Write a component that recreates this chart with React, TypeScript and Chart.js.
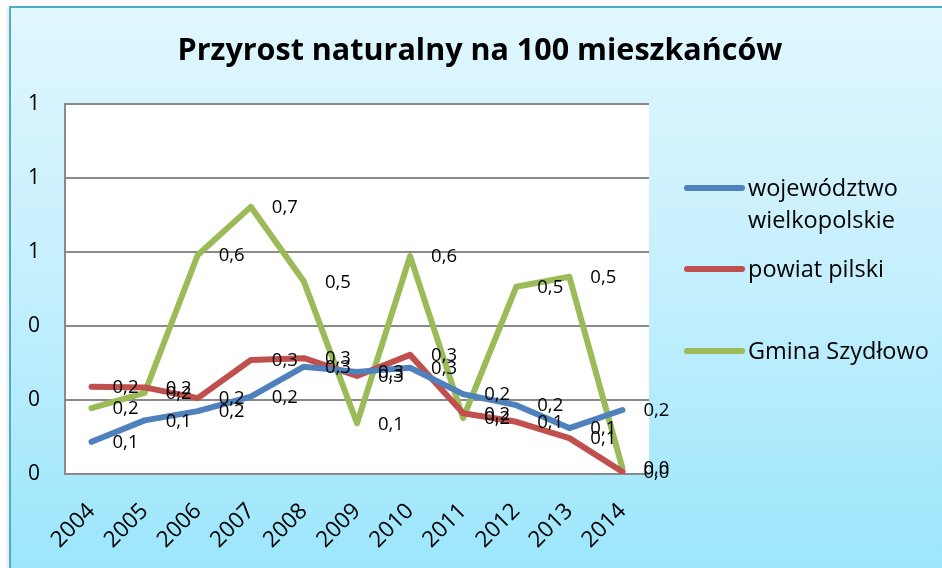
import React, { useEffect, useRef } from 'react';
import { Chart, registerables } from 'chart.js';

Chart.register(...registerables);

const years = ['2004', '2005', '2006', '2007', '2008', '2009', '2010', '2011', '2012', '2013', '2014'];
const wojewodztwo = [0.087, 0.145, 0.17, 0.209, 0.29, 0.276, 0.287, 0.216, 0.186, 0.124, 0.173];
const powiat = [0.236, 0.234, 0.205, 0.308, 0.313, 0.265, 0.322, 0.164, 0.141, 0.097, 0.006];
const gmina = [0.178, 0.219, 0.592, 0.722, 0.52, 0.137, 0.589, 0.151, 0.506, 0.533, 0.016];
const seriesNames = ['województwo wielkopolskie', 'powiat pilski', 'Gmina Szydłowo'];
const legendLines = [['województwo', 'wielkopolskie'], ['powiat pilski'], ['Gmina Szydłowo']];
const seriesColors = ['#4F81BD', '#C0504D', '#9BBB59'];
const yMin = 0;
const yMax = 1;
const yStep = 0.2;
const titleText = 'Przyrost naturalny na 100 mieszkańców';

const FONT = "'Open Sans', sans-serif";

const backgroundPlugin = {
  id: 'bgFrame',
  beforeDraw(chart: any) {
    const { ctx, width, height, chartArea } = chart;
    ctx.save();
    ctx.fillStyle = '#ffffff';
    ctx.fillRect(0, 0, width, height);
    ctx.fillStyle = 'rgba(0,0,0,0.06)';
    ctx.fillRect(6, 8, 4, height);
    const g = ctx.createLinearGradient(0, 6, 0, height);
    g.addColorStop(0, '#E1F7FE');
    g.addColorStop(0.5, '#C4EFFD');
    g.addColorStop(1, '#9CE6FC');
    ctx.fillStyle = g;
    ctx.fillRect(9, 6, width, height);
    ctx.strokeStyle = '#4BACC6';
    ctx.lineWidth = 2;
    ctx.beginPath();
    ctx.moveTo(10, height + 5);
    ctx.lineTo(10, 7);
    ctx.lineTo(width + 5, 7);
    ctx.stroke();
    ctx.fillStyle = '#ffffff';
    ctx.fillRect(chartArea.left, chartArea.top, chartArea.right - chartArea.left, chartArea.bottom - chartArea.top);
    ctx.restore();
  },
  afterDraw(chart: any) {
    const { ctx } = chart;
    ctx.save();
    ctx.font = `bold 30.5px ${FONT}`;
    ctx.fillStyle = '#000';
    ctx.textAlign = 'center';
    ctx.textBaseline = 'alphabetic';
    ctx.fillText(titleText, 480, 60);
    const lineX0 = 687;
    const lineX1 = 742;
    const textX = 748;
    const itemY = [188, 269, 351];
    ctx.font = `23.5px ${FONT}`;
    ctx.textAlign = 'left';
    legendLines.forEach((lines, i) => {
      ctx.strokeStyle = seriesColors[i];
      ctx.lineWidth = 6;
      ctx.lineCap = 'round';
      ctx.beginPath();
      ctx.moveTo(lineX0, itemY[i]);
      ctx.lineTo(lineX1, itemY[i]);
      ctx.stroke();
      ctx.fillStyle = '#000';
      lines.forEach((t, k) => {
        ctx.fillText(t, textX, itemY[i] + 8 + k * 32);
      });
    });
    ctx.restore();
  },
};

const dataLabelPlugin = {
  id: 'dataLabels',
  afterDatasetsDraw(chart: any) {
    const { ctx } = chart;
    ctx.save();
    ctx.font = `18.5px ${FONT}`;
    ctx.fillStyle = '#000';
    ctx.textAlign = 'left';
    ctx.textBaseline = 'middle';
    chart.data.datasets.forEach((ds: any, i: number) => {
      const meta = chart.getDatasetMeta(i);
      meta.data.forEach((pt: any, j: number) => {
        const v = ds.data[j] as number;
        ctx.fillText(v.toFixed(1).replace('.', ','), pt.x + 21, pt.y + 1);
      });
    });
    ctx.restore();
  },
};

export default function App() {
  const ref = useRef<HTMLCanvasElement | null>(null);

  useEffect(() => {
    let chart: Chart | null = null;
    let cancelled = false;
    const make = () => {
      if (cancelled || !ref.current) return;
      const series = [wojewodztwo, powiat, gmina];
      chart = new Chart(ref.current, {
        type: 'line',
        data: {
          labels: years,
          datasets: series.map((d, i) => ({
            label: seriesNames[i],
            data: d,
            borderColor: seriesColors[i],
            backgroundColor: seriesColors[i],
            borderWidth: 6,
            borderCapStyle: 'round',
            borderJoinStyle: 'round',
            pointRadius: 0,
            tension: 0,
            fill: false,
          })),
        },
        options: {
          responsive: false,
          animation: false,
          layout: { padding: { left: 0, top: 104, right: 293, bottom: 0 } },
          plugins: {
            legend: { display: false },
            title: { display: false },
            tooltip: { enabled: false },
          },
          scales: {
            x: {
              offset: true,
              grid: { display: false, drawTicks: false },
              border: { display: true, color: '#8A8A8A', width: 2 },
              ticks: {
                autoSkip: false,
                maxRotation: 45,
                minRotation: 45,
                padding: 24,
                color: '#000',
                font: { family: FONT, size: 22.5 },
              },
              afterFit: (s: any) => {
                s.height = 94;
              },
            },
            y: {
              min: yMin,
              max: yMax,
              grid: { color: '#8A8A8A', lineWidth: 2, drawTicks: false },
              border: { display: true, color: '#8A8A8A', width: 2 },
              ticks: {
                stepSize: yStep,
                padding: 25,
                color: '#000',
                font: { family: FONT, size: 21 },
                callback: (v: any) => String(Math.round(Number(v))),
              },
              afterFit: (s: any) => {
                s.width = 65;
              },
            },
          },
        },
        plugins: [backgroundPlugin, dataLabelPlugin],
      } as any);
    };
    const fonts = (document as any).fonts;
    if (fonts && fonts.load) {
      Promise.all([
        fonts.load(`18px ${FONT}`),
        fonts.load(`bold 28px ${FONT}`),
      ]).then(make, make);
    } else {
      make();
    }
    return () => {
      cancelled = true;
      if (chart) chart.destroy();
    };
  }, []);

  return (
    <div style={{ position: 'absolute', left: 0, top: 0, width: 942, height: 568 }}>
      <canvas ref={ref} width={942} height={568} style={{ display: 'block', width: 942, height: 568 }} />
    </div>
  );
}
